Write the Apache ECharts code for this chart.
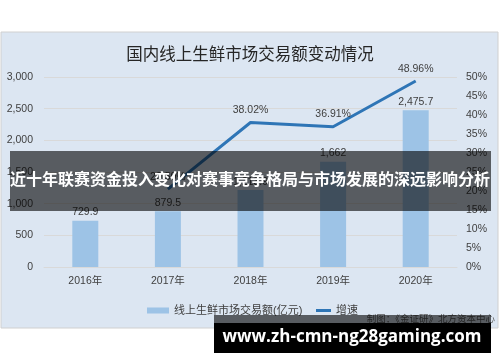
<!DOCTYPE html>
<html><head><meta charset="utf-8">
<script src="https://cdn.jsdelivr.net/npm/echarts@6/dist/echarts.min.js"></script>
<style>html,body{margin:0;padding:0;background:#fff}#c{width:500px;height:362px}</style>
</head><body><div id="c"></div>
<script>
const categories = ['2016年', '2017年', '2018年', '2019年', '2020年'];
const volume = [729.9, 879.5, 1213.9, 1662, 2475.7];
const volumeLabels = ['729.9', '879.5', '1,213.9', '1,662', '2,475.7'];
const growth = [null, 20.50, 38.02, 36.91, 48.96];
const leftTicks = { min: 0, max: 3000, interval: 500 };
const rightTicks = { min: 0, max: 50, interval: 5 };
const titleText = '国内线上生鲜市场交易额变动情况';
const barName = '线上生鲜市场交易额(亿元)';
const lineName = '增速';
const sourceText = '制图：《金证研》北方资本中心';
const bannerText = '近十年联赛资金投入变化对赛事竞争格局与市场发展的深远影响分析';
const urlText = 'www.zh-cmn-ng28gaming.com';

const FONT = '"Liberation Sans", "Noto Sans CJK SC", sans-serif';
const chart = echarts.init(document.getElementById('c'), null, {renderer: 'canvas'});
chart.setOption({
  animation: false,
  textStyle: { fontFamily: FONT },
  title: {
    text: titleText, left: 'center', top: 42,
    textStyle: { fontSize: 16.5, fontWeight: 'normal', color: '#262626', fontFamily: FONT }
  },
  grid: { left: 44, right: 43, top: 77, bottom: 95 },
  legend: [
    { data: [{ name: barName, icon: 'rect' }], left: 142, top: 300, itemWidth: 22, itemHeight: 6,
      textStyle: { fontSize: 11, color: '#404040', fontFamily: FONT } },
    { data: [{ name: lineName, icon: 'rect' }], left: 311, top: 300, itemWidth: 15, itemHeight: 3,
      textStyle: { fontSize: 11, color: '#404040', fontFamily: FONT } }
  ],
  xAxis: {
    type: 'category', data: categories,
    axisLine: { lineStyle: { color: '#d9d9d9' } }, axisTick: { show: false },
    axisLabel: { color: '#404040', fontSize: 10.5, margin: 9 }
  },
  yAxis: [
    { type: 'value', min: leftTicks.min, max: leftTicks.max, interval: leftTicks.interval,
      axisLabel: { color: '#404040', fontSize: 10.5, margin: 11,
        formatter: v => v.toLocaleString('en-US') },
      splitLine: { lineStyle: { color: '#d9d9d9', width: 1 } },
      axisLine: { show: false }, axisTick: { show: false } },
    { type: 'value', min: rightTicks.min, max: rightTicks.max, interval: rightTicks.interval,
      axisLabel: { color: '#404040', fontSize: 10.5, margin: 9, formatter: v => v + '%' },
      splitLine: { show: false }, axisLine: { show: false }, axisTick: { show: false } }
  ],
  series: [
    { name: barName, type: 'bar', data: volume, barWidth: 26, yAxisIndex: 0,
      itemStyle: { color: '#9dc3e6' },
      label: { show: true, position: 'top', distance: 3, color: '#404040', fontSize: 10.5,
        formatter: p => volumeLabels[p.dataIndex] } },
    { name: lineName, type: 'line', data: growth, yAxisIndex: 1, showSymbol: true, symbol: 'circle', symbolSize: 0.01,
      lineStyle: { color: '#2e75b6', width: 3 }, itemStyle: { color: '#2e75b6' },
      label: { show: true, position: 'top', distance: 7, color: '#404040', fontSize: 10.5,
        formatter: p => Number(p.value).toFixed(2) + '%' } }
  ],
  graphic: [
    { type: 'rect', z: -10, shape: { x: 1, y: 32, width: 497, height: 296 },
      style: { fill: '#dce6f2', stroke: '#d0d0d0', lineWidth: 1 } },
    { type: 'text', z: 50, style: { text: sourceText, x: 495, y: 319, align: 'right', verticalAlign: 'middle',
      fontSize: 9.5, fill: '#595959', fontFamily: FONT } },
    { type: 'rect', z: 100, shape: { x: 10, y: 151, width: 481, height: 60 },
      style: { fill: 'rgba(0,0,0,0.6)' } },
    { type: 'text', z: 101, style: { text: bannerText, x: 250, y: 181, align: 'center', verticalAlign: 'middle',
      fontSize: 16, fontWeight: 'bold', fill: '#ffffff', fontFamily: FONT } },
    { type: 'rect', z: 100, shape: { x: 214, y: 315, width: 277, height: 8 },
      style: { fill: 'rgba(0,0,0,0.6)' } },
    { type: 'rect', z: 100, shape: { x: 214, y: 323, width: 277, height: 30 },
      style: { fill: '#000000' } },
    { type: 'text', z: 101, style: { text: urlText, x: 352, y: 337, align: 'center', verticalAlign: 'middle',
      fontSize: 17, fontWeight: 'bold', fill: '#ffffff', fontFamily: '"Open Sans", "DejaVu Sans", sans-serif' } }
  ]
});
</script></body></html>
